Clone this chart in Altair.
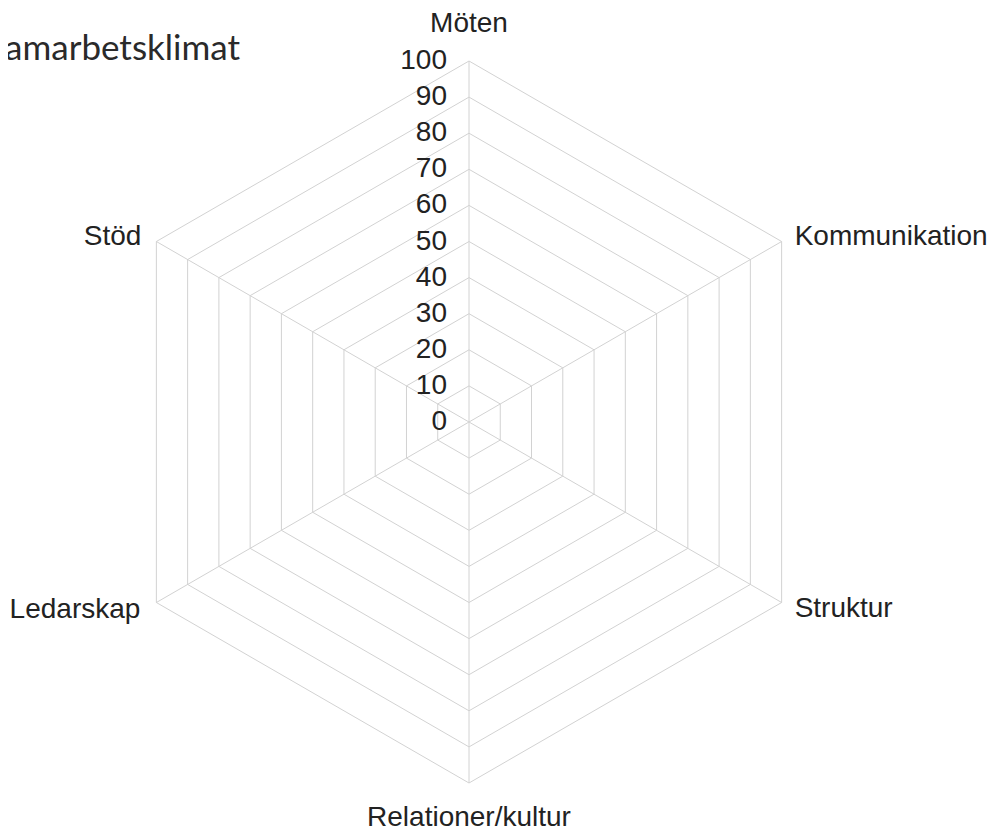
import altair as alt
import numpy as np
import pandas as pd

title_text = "Samarbetsklimat"
categories = ["Möten", "Kommunikation", "Struktur", "Relationer/kultur", "Ledarskap", "Stöd"]
ring_levels = [10, 20, 30, 40, 50, 60, 70, 80, 90, 100]
tick_values = [0, 10, 20, 30, 40, 50, 60, 70, 80, 90, 100]
max_value = 100

n = len(categories)
angles = [np.deg2rad(90 - 360.0 / n * i) for i in range(n)]

ring_rows = []
for lvl in ring_levels:
    for k in range(n + 1):
        a = angles[k % n]
        ring_rows.append({"level": lvl, "k": k, "x": lvl * np.cos(a), "y": lvl * np.sin(a)})
rings = pd.DataFrame(ring_rows)

spokes = pd.DataFrame({
    "cat": categories,
    "x": [0.0] * n,
    "y": [0.0] * n,
    "x2": [max_value * np.cos(a) for a in angles],
    "y2": [max_value * np.sin(a) for a in angles],
})

labels = pd.DataFrame({
    "cat": categories,
    "x": [max_value * np.cos(a) for a in angles],
    "y": [max_value * np.sin(a) for a in angles],
})

ticks = pd.DataFrame({"v": tick_values, "x": [0.0] * len(tick_values), "lab": [str(v) for v in tick_values]})

W, H = 983, 822
cx, cy = 461.0, 414.0
ppu = 3.61
xs = alt.Scale(domain=[-cx / ppu, (W - cx) / ppu], nice=False, zero=False)
ys = alt.Scale(domain=[-(H - cy) / ppu, cy / ppu], nice=False, zero=False)

grid_color = "#d2d2d2"
text_color = "#222222"
font = "Liberation Sans"
fs = 28

ring_layer = alt.Chart(rings).mark_line(color=grid_color, strokeWidth=1).encode(
    x=alt.X("x:Q", scale=xs, axis=None),
    y=alt.Y("y:Q", scale=ys, axis=None),
    detail="level:N",
    order="k:Q",
)

spoke_layer = alt.Chart(spokes).mark_rule(color=grid_color, strokeWidth=1).encode(
    x=alt.X("x:Q", scale=xs, axis=None),
    y=alt.Y("y:Q", scale=ys, axis=None),
    x2="x2:Q",
    y2="y2:Q",
)

tick_layer = alt.Chart(ticks).mark_text(
    align="right", baseline="middle", dx=-22, fontSize=fs, font=font, color=text_color
).encode(
    x=alt.X("x:Q", scale=xs, axis=None),
    y=alt.Y("v:Q", scale=ys, axis=None),
    text="lab:N",
)

offsets = [
    (0, -29, "center"),
    (13, 3, "left"),
    (13, 14, "left"),
    (0, 43, "center"),
    (-16, 15, "right"),
    (-15, 3, "right"),
]
label_layers = []
for cat, (dx, dy, al) in zip(categories, offsets):
    label_layers.append(
        alt.Chart(labels).transform_filter(alt.datum.cat == cat).mark_text(
            align=al, baseline="alphabetic", dx=dx, dy=dy, fontSize=fs, font=font, color=text_color
        ).encode(
            x=alt.X("x:Q", scale=xs, axis=None),
            y=alt.Y("y:Q", scale=ys, axis=None),
            text="cat:N",
        )
    )

title_layer = alt.Chart(pd.DataFrame({"t": [title_text]})).mark_text(
    align="right", baseline="alphabetic", fontSize=35, font="Lato", color="#2a2a2a"
).encode(
    x=alt.value(232),
    y=alt.value(52),
    text="t:N",
)

chart = alt.layer(ring_layer, spoke_layer, tick_layer, *label_layers, title_layer).properties(
    width=W, height=H, autosize=alt.AutoSizeParams(type="none"), padding=0, background="white"
).configure_view(stroke=None)

chart.save("out.html", embed_options={"renderer": "svg", "actions": False})
